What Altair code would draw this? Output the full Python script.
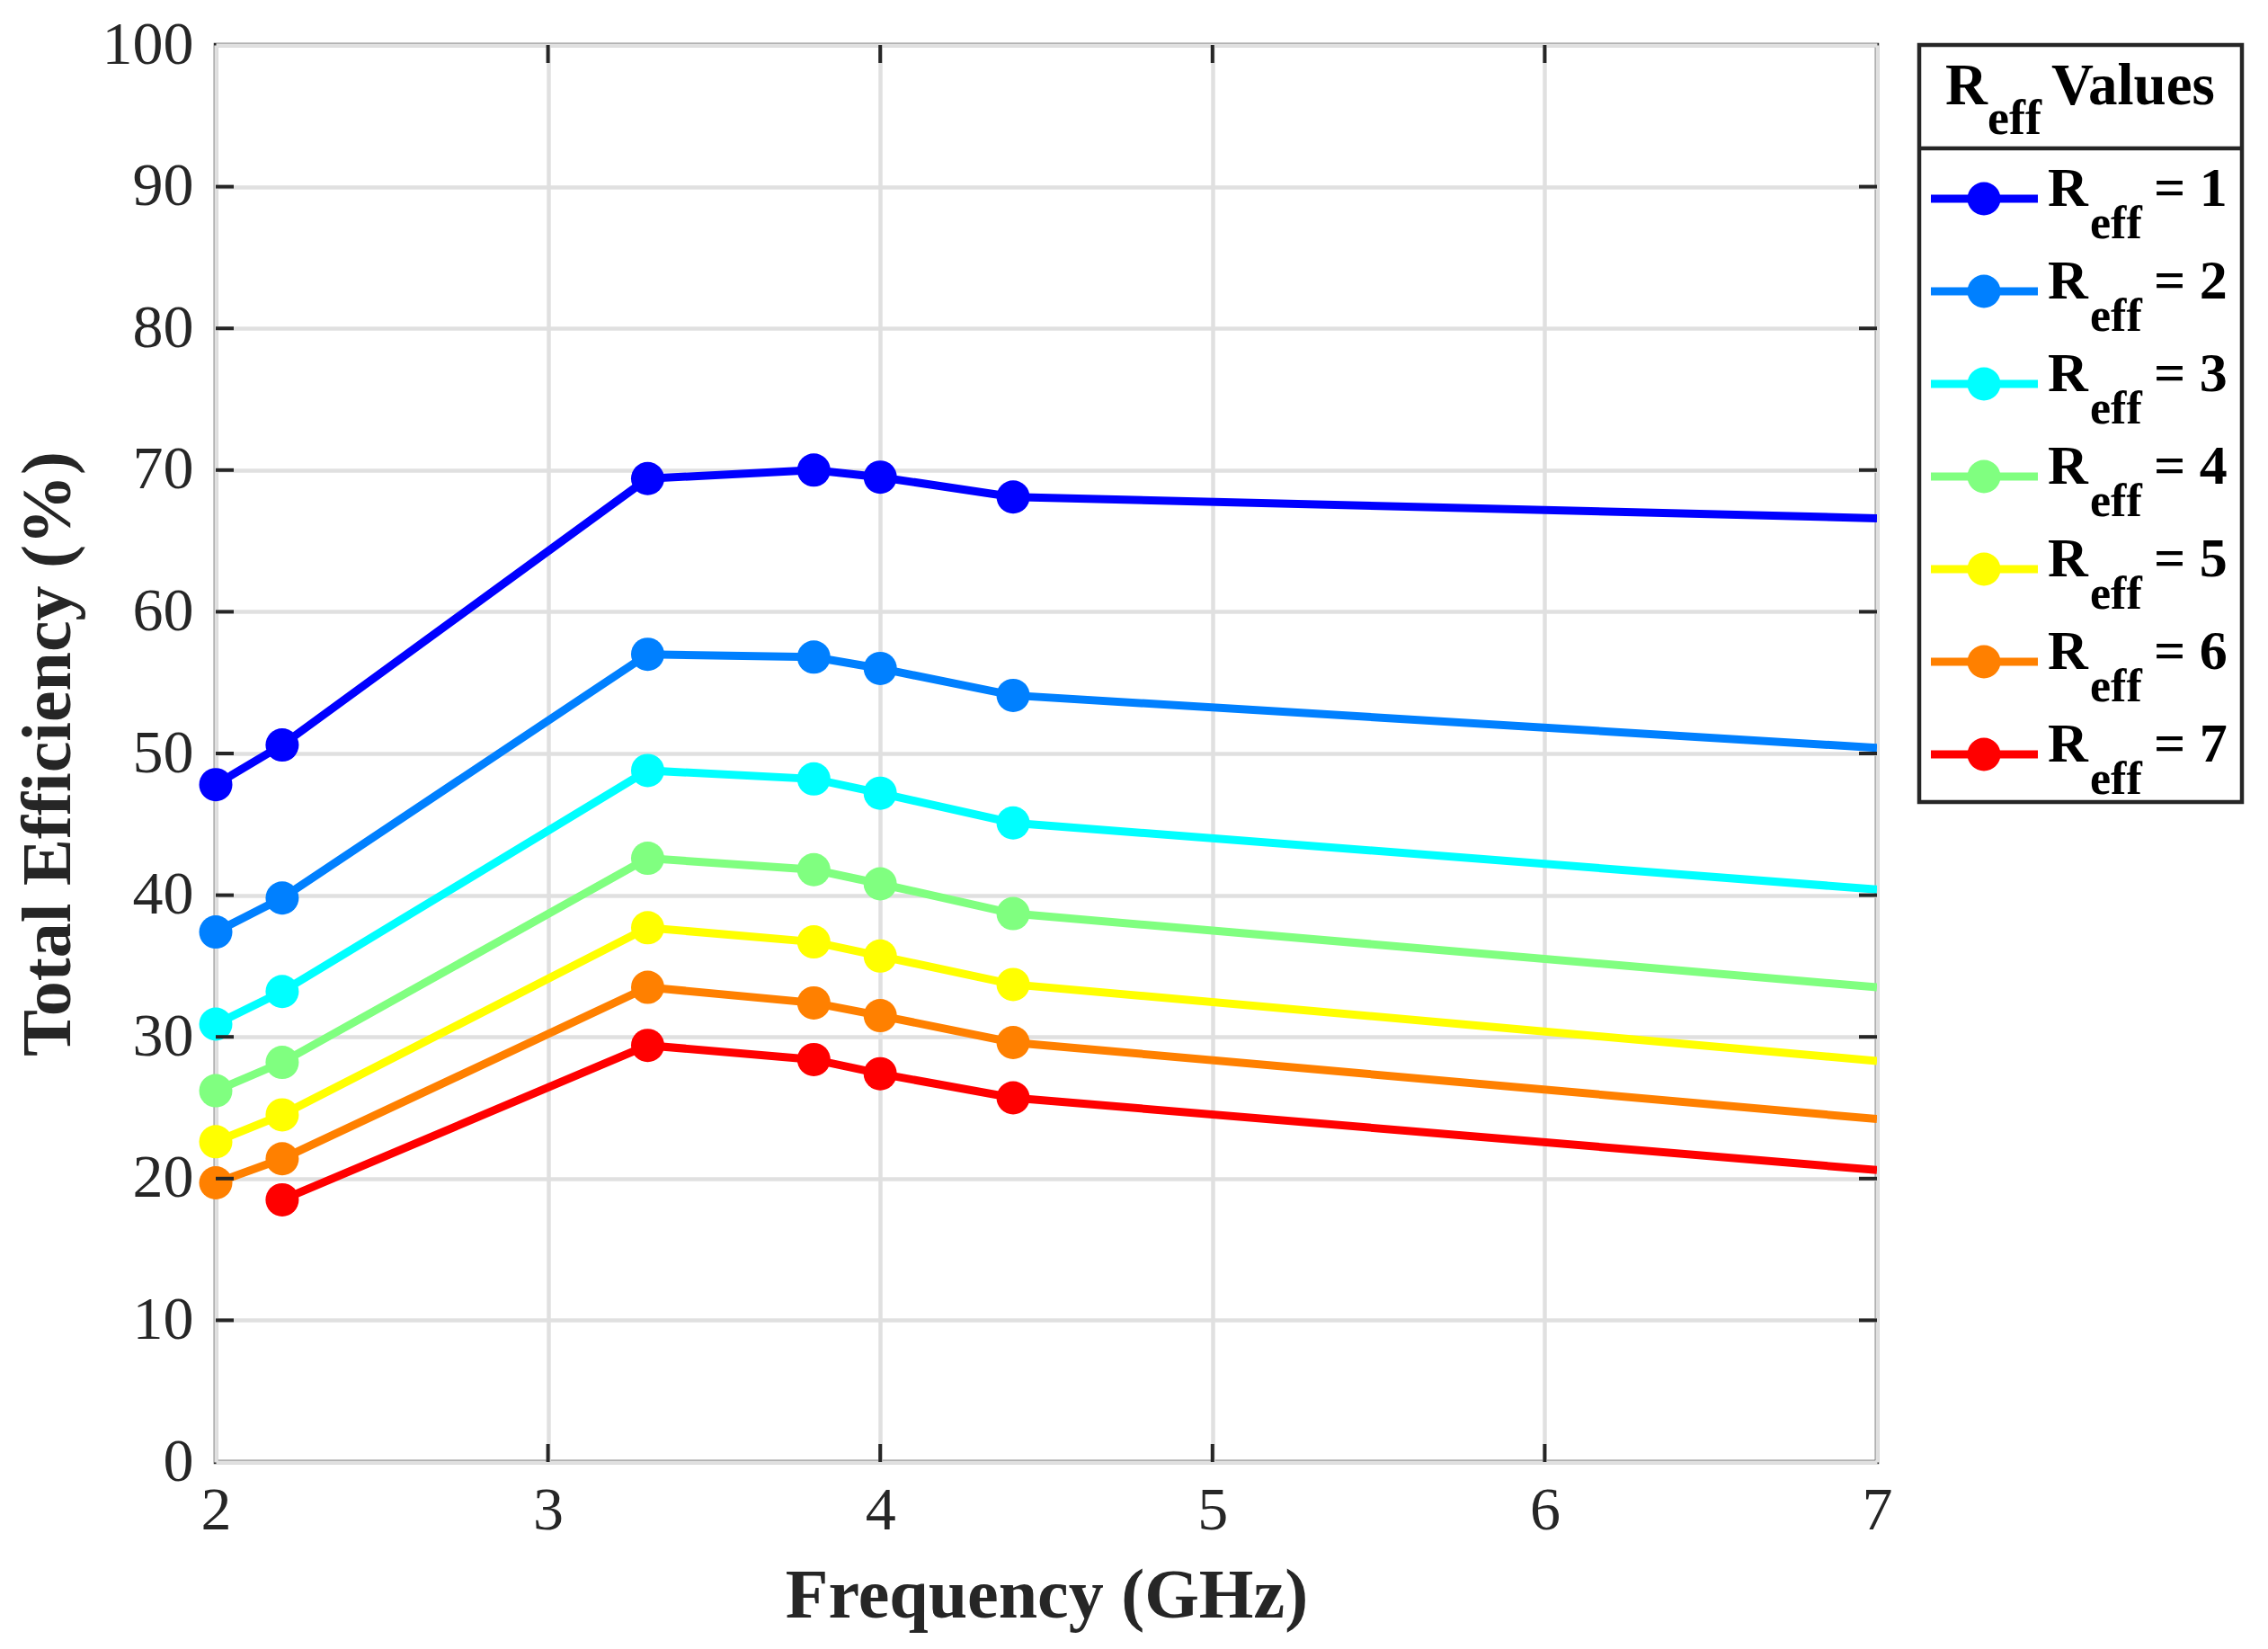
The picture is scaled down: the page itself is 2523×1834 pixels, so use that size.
import altair as alt
import pandas as pd

# ---------------- data ----------------
freq = [2.0, 2.2, 3.3, 3.8, 4.0, 4.4, 7.0]
r_values = ["1", "2", "3", "4", "5", "6", "7"]
eff_r1 = [47.8, 50.6, 69.4, 70.0, 69.5, 68.1, 66.6]
eff_r2 = [37.4, 39.8, 57.0, 56.8, 56.0, 54.1, 50.4]
eff_r3 = [30.9, 33.2, 48.8, 48.2, 47.2, 45.1, 40.4]
eff_r4 = [26.2, 28.2, 42.6, 41.8, 40.8, 38.7, 33.5]
eff_r5 = [22.6, 24.5, 37.7, 36.7, 35.7, 33.7, 28.3]
eff_r6 = [19.7, 21.4, 33.5, 32.4, 31.5, 29.6, 24.2]
eff_r7 = [None, 18.5, 29.4, 28.4, 27.4, 25.7, 20.6]
has_marker = [True, True, True, True, True, True, False]
series_colors = ["#0000FF", "#0080FF", "#00FFFF", "#80FF80", "#FFFF00", "#FF8000", "#FF0000"]
x_ticks = [2, 3, 4, 5, 6, 7]
y_ticks = [0, 10, 20, 30, 40, 50, 60, 70, 80, 90, 100]

all_series = [eff_r1, eff_r2, eff_r3, eff_r4, eff_r5, eff_r6, eff_r7]

# ---------------- styles ----------------
FONT = "Liberation Serif"
INK = "#262626"
GRID = "#e0e0e0"
W, H = 1848, 1576
LINE_W = 9
MARK_SIZE = 1369
TICK_PX = 20
X_DOM = [2, 7]
Y_DOM = [0, 100]

rows = []
for lab, vals in zip(r_values, all_series):
    for f, v, m in zip(freq, vals, has_marker):
        if v is not None:
            rows.append({"freq": f, "eff": v, "R": lab, "marker": m})
df = pd.DataFrame(rows)

xs = alt.Scale(domain=X_DOM, nice=False, zero=False)
ys = alt.Scale(domain=Y_DOM, nice=False)
col = alt.Scale(domain=r_values, range=series_colors)

x_axis = alt.Axis(values=x_ticks, format="d", grid=True, gridColor=GRID, gridWidth=4.5,
                  domain=False, ticks=False, tickSize=0,
                  labelFont=FONT, labelFontSize=68, labelColor=INK, labelPadding=20,
                  labelFlush=False,
                  title="Frequency (GHz)", titleFont=FONT, titleFontSize=78,
                  titleFontWeight="bold", titleColor=INK, titlePadding=22)
y_axis = alt.Axis(values=y_ticks, format="d", grid=True, gridColor=GRID, gridWidth=4.5,
                  domain=False, ticks=False, tickSize=0,
                  labelFont=FONT, labelFontSize=68, labelColor=INK, labelPadding=25,
                  labelFlush=False,
                  title="Total Efficiency (%)", titleFont=FONT, titleFontSize=78,
                  titleFontWeight="bold", titleColor=INK, titlePadding=20)

base = alt.Chart(df)
lines = base.mark_line(strokeWidth=LINE_W, clip=True).encode(
    x=alt.X("freq:Q", scale=xs, axis=x_axis),
    y=alt.Y("eff:Q", scale=ys, axis=y_axis),
    color=alt.Color("R:N", scale=col, legend=None),
    detail="R:N",
)
points = base.transform_filter("datum.marker").mark_circle(size=MARK_SIZE, opacity=1).encode(
    x=alt.X("freq:Q", scale=xs),
    y=alt.Y("eff:Q", scale=ys),
    color=alt.Color("R:N", scale=col, legend=None),
)

# inward ticks (box on all four sides)
dx = TICK_PX * (X_DOM[1] - X_DOM[0]) / W
dy = TICK_PX * (Y_DOM[1] - Y_DOM[0]) / H
inner_x = [t for t in x_ticks if X_DOM[0] < t < X_DOM[1]]
inner_y = [t for t in y_ticks if Y_DOM[0] < t < Y_DOM[1]]
tick_rows = []
for t in inner_x:
    tick_rows.append({"x": t, "x2": t, "y": Y_DOM[0], "y2": Y_DOM[0] + dy})
    tick_rows.append({"x": t, "x2": t, "y": Y_DOM[1], "y2": Y_DOM[1] - dy})
for t in inner_y:
    tick_rows.append({"x": X_DOM[0], "x2": X_DOM[0] + dx, "y": t, "y2": t})
    tick_rows.append({"x": X_DOM[1], "x2": X_DOM[1] - dx, "y": t, "y2": t})
ticks = alt.Chart(pd.DataFrame(tick_rows)).mark_rule(color=INK, strokeWidth=4).encode(
    x=alt.X("x:Q", scale=xs), x2="x2:Q",
    y=alt.Y("y:Q", scale=ys), y2="y2:Q",
)

main = alt.layer(lines, points, ticks).properties(width=W, height=H)

# ---------------- legend panel ----------------
LEG_W, LEG_H = 359, 842
ROW0, ROW_STEP = 171, 103
leg_df = pd.DataFrame({
    "R": r_values,
    "y": [ROW0 + ROW_STEP * i for i in range(len(r_values))],
    "eq": ["= " + r for r in r_values],
})
lx = alt.Scale(domain=[0, LEG_W], nice=False, zero=False)
ly = alt.Scale(domain=[0, LEG_H], nice=False, zero=False, reverse=True)
lb = alt.Chart(leg_df)
leg_line = lb.mark_rule(strokeWidth=LINE_W).encode(
    x=alt.X("x1:Q", scale=lx, axis=None), x2="x2:Q",
    y=alt.Y("y:Q", scale=ly, axis=None),
    color=alt.Color("R:N", scale=col, legend=None),
).transform_calculate(x1="13", x2="132")
leg_pt = lb.mark_circle(size=MARK_SIZE, opacity=1).encode(
    x=alt.X("xc:Q", scale=lx, axis=None),
    y=alt.Y("y:Q", scale=ly, axis=None),
    color=alt.Color("R:N", scale=col, legend=None),
).transform_calculate(xc="72")
txt_kw = dict(font=FONT, fontWeight="bold", color="black", align="left", baseline="alphabetic")
leg_R = lb.mark_text(fontSize=62, dy=8, **txt_kw).encode(
    x=alt.X("xt:Q", scale=lx, axis=None), y=alt.Y("y:Q", scale=ly, axis=None),
    text=alt.value("R"),
).transform_calculate(xt="143")
leg_sub = lb.mark_text(fontSize=52, dy=44, **txt_kw).encode(
    x=alt.X("xt:Q", scale=lx, axis=None), y=alt.Y("y:Q", scale=ly, axis=None),
    text=alt.value("eff"),
).transform_calculate(xt="190")
leg_eq = lb.mark_text(fontSize=62, dy=8, **txt_kw).encode(
    x=alt.X("xt:Q", scale=lx, axis=None), y=alt.Y("y:Q", scale=ly, axis=None),
    text="eq:N",
).transform_calculate(xt="261")

head_df = pd.DataFrame({
    "t": ["R", "eff", "Values"],
    "x": [29, 76, 147],
    "y": [66, 99, 66],
    "fs": [65, 54, 65],
})
head = alt.Chart(head_df).mark_text(**txt_kw).encode(
    x=alt.X("x:Q", scale=lx, axis=None), y=alt.Y("y:Q", scale=ly, axis=None),
    text="t:N", size=alt.Size("fs:Q", scale=None, legend=None),
)
sep = alt.Chart(pd.DataFrame({"x": [0], "x2": [LEG_W], "y": [115]})).mark_rule(
    color=INK, strokeWidth=4.5).encode(
    x=alt.X("x:Q", scale=lx, axis=None), x2="x2:Q",
    y=alt.Y("y:Q", scale=ly, axis=None),
)
legend = alt.layer(sep, leg_line, leg_pt, leg_R, leg_sub, leg_eq, head).properties(
    width=LEG_W, height=LEG_H)

chart = alt.hconcat(main, legend, spacing=22).properties(
    padding={"left": 4, "top": 5, "right": 5, "bottom": 5},
    background="white",
).configure_view(stroke=INK, strokeWidth=4.5).configure_concat(spacing=22)

chart.save("out.html", embed_options={"renderer": "svg", "actions": False})
